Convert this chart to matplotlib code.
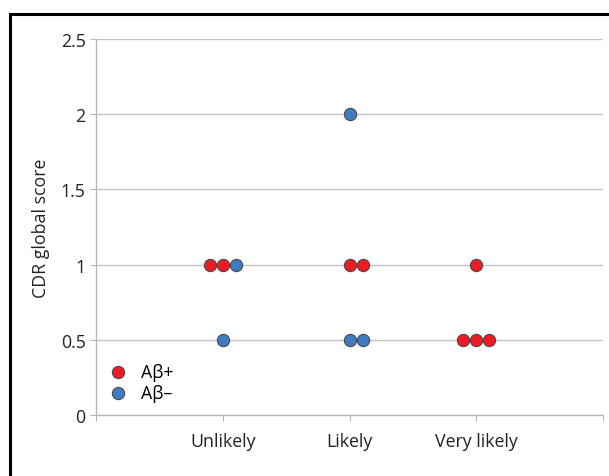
import numpy as np
import matplotlib.pyplot as plt
from matplotlib.patches import Rectangle

plt.rcParams['font.family'] = ['Open Sans', 'DejaVu Sans']

categories = ['Unlikely', 'Likely', 'Very likely']

# CDR global scores per category, one list per amyloid group
pos_cat = [0, 0, 1, 1, 2, 2, 2, 2]
pos_score = [1, 1, 1, 1, 1, 0.5, 0.5, 0.5]
neg_cat = [0, 0, 1, 1, 1]
neg_score = [1, 0.5, 2, 0.5, 0.5]

series = [
    ('A\u03b2+', pos_cat, pos_score, '#ED1C24'),
    ('A\u03b2\u2013', neg_cat, neg_score, '#3F7BC1'),
]

# side-by-side placement of points sharing a category and score
counts = {}
for _, cats, scores, _ in series:
    for c, s in zip(cats, scores):
        counts[(c, s)] = counts.get((c, s), 0) + 1
step = 0.103
used = {}

fs = 12.8
fig = plt.figure(figsize=(6.09, 4.77), dpi=100)
ax = fig.add_axes([96/609, 61/477, 507/609, 376/477])

for label, cats, scores, color in series:
    xs = []
    for c, s in zip(cats, scores):
        k = used.get((c, s), 0)
        used[(c, s)] = k + 1
        n = counts[(c, s)]
        xs.append(c + 1 + (k - (n - 1) // 2) * step)
    ax.scatter(xs, scores, s=78, color=color, edgecolor='#4a4a4a',
               linewidth=0.8, label=label, zorder=3)

ax.set_xlim(0, 4)
ax.set_ylim(0, 2.5)
ax.set_yticks(np.arange(0, 2.51, 0.5))
ax.set_yticklabels(['0', '0.5', '1', '1.5', '2', '2.5'])
ax.set_xticks([0, 1, 2, 3, 4])
ax.set_xticklabels([''] + categories + [''])
ax.yaxis.grid(True, color='#c4c4c4', linewidth=1)
ax.set_axisbelow(True)
for sp in ['top', 'right']:
    ax.spines[sp].set_visible(False)
for sp in ['left', 'bottom']:
    ax.spines[sp].set_color('#b8b8b8')
    ax.spines[sp].set_linewidth(1)
ax.tick_params(axis='both', colors='#b8b8b8', labelcolor='#222222',
               labelsize=fs, length=4)
ax.tick_params(axis='x', pad=8)
ax.set_ylabel('CDR global score', fontsize=fs, color='#222222', labelpad=8)

ax.legend(loc='lower left', bbox_to_anchor=(-0.012, 0.006), frameon=False,
          fontsize=fs, handletextpad=0.3, labelspacing=0.2,
          borderaxespad=0.2)

fig.patches.append(Rectangle((10/609, -0.1), 1.0, 0.1 + 462/477,
                             transform=fig.transFigure, fill=False,
                             edgecolor='black', linewidth=2.2))

fig.savefig('out.png', dpi=100)
